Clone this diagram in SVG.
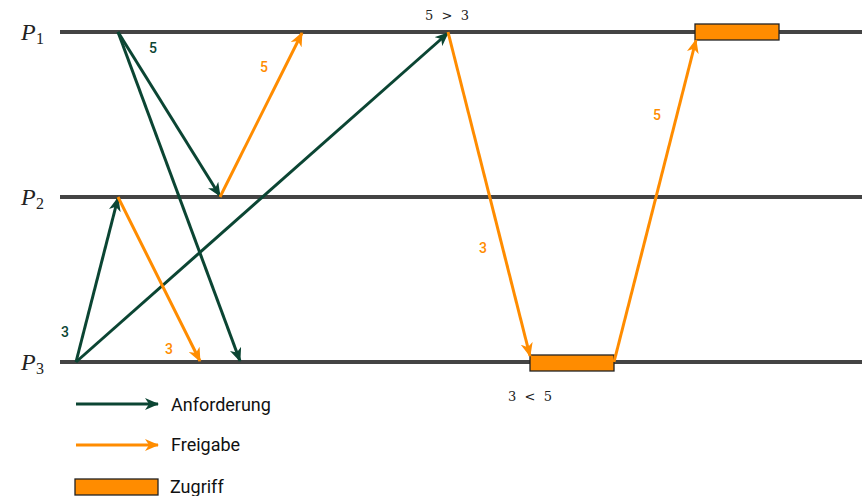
<svg xmlns="http://www.w3.org/2000/svg" width="865" height="496" viewBox="0 0 865 496">
<defs>
<marker id="ag" markerWidth="14" markerHeight="12" viewBox="0 0 14 12" refX="13" refY="6" orient="auto" markerUnits="userSpaceOnUse">
<path d="M0,0 L14,6 L0,12 L4,6 Z" fill="#0b4533"/>
</marker>
<marker id="ao" markerWidth="14" markerHeight="12" viewBox="0 0 14 12" refX="13" refY="6" orient="auto" markerUnits="userSpaceOnUse">
<path d="M0,0 L14,6 L0,12 L4,6 Z" fill="#ff8c00"/>
</marker>
</defs>
<style>
.tl{stroke:#444;stroke-width:4;fill:none}
.g{stroke:#0b4533;stroke-width:3;fill:none;marker-end:url(#ag)}
.o{stroke:#ff8c00;stroke-width:3;fill:none;marker-end:url(#ao)}
.box{fill:#ff8c00;stroke:#222;stroke-width:1.3}
.pl{font-family:"Liberation Serif",serif;font-style:italic;font-size:24px;fill:#222}
.sub{font-family:"Liberation Serif",serif;font-size:16px;fill:#222}
.m{font-family:"DejaVu Serif","Liberation Serif",serif;font-size:13px;fill:#222;white-space:pre}
.lg{font-family:Roboto,"Liberation Sans",sans-serif;font-size:14px;font-weight:500}
.lt{font-family:Roboto,"Liberation Sans",sans-serif;font-size:18px;fill:#111}
</style>
<g id="timelines">
<line class="tl" x1="60" y1="32" x2="862" y2="32"/>
<line class="tl" x1="60" y1="197" x2="862" y2="197"/>
<line class="tl" x1="60" y1="362" x2="862" y2="362"/>
</g>
<g id="P1"><text class="pl" x="21" y="40">P</text><text class="sub" x="36" y="44">1</text></g>
<g id="P2"><text class="pl" x="21" y="205">P</text><text class="sub" x="36" y="209">2</text></g>
<g id="P3"><text class="pl" x="21" y="370">P</text><text class="sub" x="36" y="374">3</text></g>
<g id="access1"><rect class="box" x="530" y="355" width="84" height="16"/></g>
<g id="access2"><rect class="box" x="695" y="24" width="84" height="16"/></g>
<g id="connectors">
<line class="g" x1="118" y1="32" x2="220" y2="196"/>
<line class="g" x1="118" y1="32" x2="240" y2="361"/>
<line class="g" x1="76" y1="362" x2="118" y2="198"/>
<line class="g" x1="76" y1="362" x2="448" y2="33"/>
<line class="o" x1="220" y1="197" x2="302" y2="33"/>
<line class="o" x1="118" y1="197" x2="200" y2="361"/>
<line class="o" x1="448" y1="32" x2="530" y2="356"/>
<line class="o" x1="614" y1="362" x2="696" y2="40"/>
</g>
<g id="labels">
<text class="lg" x="149" y="53" fill="#0b4533">5</text>
<text class="lg" x="260" y="72" fill="#ff8c00">5</text>
<text class="lg" x="61" y="337" fill="#0b4533">3</text>
<text class="lg" x="165" y="354" fill="#ff8c00">3</text>
<text class="lg" x="479" y="253" fill="#ff8c00">3</text>
<text class="lg" x="653" y="120" fill="#ff8c00">5</text>
<text class="m" x="425" y="20">5  &gt;  3</text>
<text class="m" x="508" y="401">3  &lt;  5</text>
</g>
<g id="legend">
<line class="g" x1="76" y1="404" x2="158" y2="404"/>
<text class="lt" x="171" y="411">Anforderung</text>
<line class="o" x1="76" y1="445" x2="158" y2="445"/>
<text class="lt" x="171" y="451">Freigabe</text>
<rect class="box" x="75" y="479" width="83" height="16"/>
<text class="lt" x="170" y="493">Zugriff</text>
</g>
</svg>
